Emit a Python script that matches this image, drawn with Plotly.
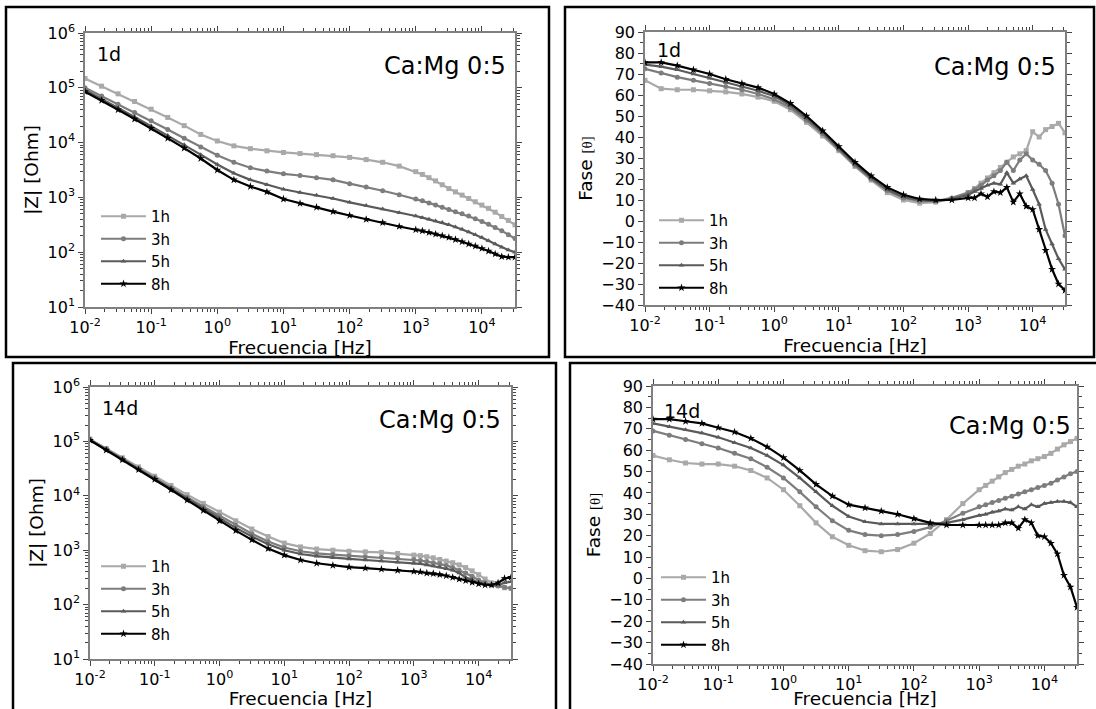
import plotly.graph_objects as go

W, H = 1096, 709

# Measurement frequencies [Hz]
freq = [0.01, 0.0178, 0.0316, 0.0562, 0.1, 0.178, 0.316, 0.562, 1, 1.78, 3.16, 5.62,
        10, 17.8, 31.6, 56.2, 100, 178, 316, 562, 1000,
        1259, 1585, 1995, 2512, 3162, 3981, 5012, 6310, 7943, 10000,
        12589, 15849, 19953, 25119, 31623]

hours = ["1h", "3h", "5h", "8h"]

# |Z| [Ohm], 1 day
z1d_1h = [1.48e5, 1.07e5, 7.76e4, 5.62e4, 4.07e4, 2.88e4, 2.04e4, 1.41e4, 1.07e4, 8.71e3, 7.76e3, 7.08e3,
          6.61e3, 6.31e3, 6.03e3, 5.75e3, 5.37e3, 4.90e3, 4.37e3, 3.72e3, 2.95e3,
          2.63e3, 2.29e3, 2.00e3, 1.70e3, 1.45e3, 1.26e3, 1.10e3, 955, 832, 724, 631, 537, 447, 380, 316]
z1d_3h = [1.00e5, 7.08e4, 5.01e4, 3.55e4, 2.51e4, 1.74e4, 1.20e4, 8.32e3, 5.89e3, 4.37e3, 3.47e3, 3.02e3,
          2.69e3, 2.51e3, 2.29e3, 2.09e3, 1.78e3, 1.55e3, 1.32e3, 1.12e3, 933,
          871, 794, 724, 661, 603, 550, 501, 457, 407, 363, 324, 282, 245, 209, 178]
z1d_5h = [9.12e4, 6.31e4, 4.27e4, 2.95e4, 2.00e4, 1.35e4, 9.12e3, 6.03e3, 3.98e3, 2.75e3, 2.09e3, 1.70e3,
          1.41e3, 1.23e3, 1.10e3, 955, 813, 708, 617, 525, 457,
          427, 398, 372, 347, 316, 288, 263, 234, 209, 186, 162, 141, 123, 110, 100]
z1d_8h = [8.51e4, 5.89e4, 3.98e4, 2.69e4, 1.82e4, 1.20e4, 7.94e3, 5.13e3, 3.16e3, 2.09e3, 1.58e3, 1.26e3,
          933, 776, 661, 550, 468, 398, 347, 295, 257,
          245, 229, 214, 200, 186, 170, 155, 141, 129, 117, 105, 93, 83, 81, 81]

# Phase [deg], 1 day
ph1d_1h = [67, 63, 62.5, 62.5, 62, 61.5, 60.5, 59, 57, 53, 47, 40.5, 33.5, 26, 19.5, 13.5, 10, 8.5, 9, 10.5, 13.5,
           15.5, 18, 20.5, 23, 25.5, 28, 30.5, 32, 33.5, 42.5, 40, 43.5, 45, 46.5, 42]
ph1d_3h = [72.5, 70.5, 68.5, 67, 65.5, 64, 62.5, 60.5, 58, 54, 48, 41.5, 34, 26.5, 20, 14.5, 11, 9.5, 9.5, 11, 13.5,
           15, 17, 19.5, 21.5, 24, 28, 24, 29, 32, 29, 27, 24, 18, 8, -7]
ph1d_5h = [74.5, 73.5, 72, 70, 68, 66, 64, 62, 59.5, 55, 49, 42, 34.5, 27, 20.5, 15, 11.5, 10, 9.5, 10.5, 12.5,
           14, 15.5, 17, 18, 17.5, 23, 18, 20, 21.5, 15, 8, -4, -11, -18, -23]
ph1d_8h = [75.5, 75.5, 74, 72, 70, 67.5, 65.5, 63.5, 60.5, 56, 50, 43, 35.5, 28, 21.5, 16, 12.5, 10.5, 10, 10, 11,
           11, 13, 11.5, 14, 13.5, 16, 9, 13, 7, 5.5, -4, -14, -23, -30, -33]

# |Z| [Ohm], 14 days
z14d_1h = [1.10e5, 7.41e4, 5.01e4, 3.39e4, 2.29e4, 1.55e4, 1.05e4, 7.24e3, 5.01e3, 3.47e3, 2.45e3, 1.78e3,
           1.35e3, 1.15e3, 1.05e3, 1.00e3, 955, 933, 912, 871, 813,
           794, 759, 724, 676, 631, 589, 537, 479, 417, 355, 295, 251, 224, 204, 200]
z14d_3h = [1.07e5, 7.24e4, 4.79e4, 3.16e4, 2.14e4, 1.41e4, 9.33e3, 6.31e3, 4.27e3, 2.88e3, 2.00e3, 1.45e3,
           1.12e3, 955, 871, 832, 794, 759, 741, 708, 676,
           646, 617, 589, 562, 525, 479, 427, 380, 331, 282, 251, 229, 219, 209, 200]
z14d_5h = [1.05e5, 7.08e4, 4.68e4, 3.09e4, 2.04e4, 1.35e4, 8.71e3, 5.75e3, 3.80e3, 2.57e3, 1.78e3, 1.29e3,
           1.00e3, 851, 776, 724, 692, 661, 631, 603, 575,
           562, 537, 513, 490, 457, 427, 380, 316, 288, 251, 234, 224, 229, 251, 263]
z14d_8h = [1.05e5, 6.92e4, 4.57e4, 3.02e4, 2.00e4, 1.29e4, 8.32e3, 5.37e3, 3.47e3, 2.29e3, 1.55e3, 1.07e3,
           813, 661, 575, 525, 490, 468, 447, 427, 407,
           398, 380, 372, 355, 339, 316, 295, 275, 257, 240, 229, 229, 251, 302, 316]

# Phase [deg], 14 days
ph14d_1h = [57.5, 55.5, 54, 53.5, 53.5, 52.5, 50.5, 47, 41.5, 34, 26, 19.5, 15.5, 13, 12.5, 13.5, 16.5, 21, 27.5, 35, 41.5,
            43.5, 45.5, 47.5, 49.5, 51, 52.5, 53.5, 55, 56, 57, 58.5, 60.5, 62.5, 64, 65.5]
ph14d_3h = [69, 67, 65, 63, 61, 58.5, 56, 52, 47, 40.5, 33.5, 27, 22.5, 20.5, 20, 20.5, 22, 24, 27, 30.5, 33.5,
            34.5, 35.5, 36.5, 37.5, 38.5, 39.5, 40.5, 41.5, 42.5, 43.5, 44.5, 46, 47.5, 49, 50]
ph14d_5h = [72.5, 71, 69.5, 68, 66, 63.5, 61, 57.5, 53, 47, 40.5, 34, 29, 26.5, 25.5, 25.5, 25.5, 25.5, 26, 27.5, 29.5,
            30, 31, 31.5, 32.5, 32, 33.5, 32.5, 34.5, 33.5, 35, 35.5, 36, 36, 35.5, 33.5]
ph14d_8h = [74.5, 74.5, 73.5, 72.5, 70.5, 68.5, 65.5, 61.5, 56.5, 50.5, 44, 38.5, 34.5, 33, 31.5, 30, 28, 26, 25, 25, 25,
            25, 25, 25, 26, 26, 23.5, 27.5, 26, 20, 19.5, 16.5, 11.5, 1.5, -4, -13.5]

x_ticks = [0.01, 0.1, 1, 10, 100, 1000, 10000]
x_ticktext = ["10<sup>-2</sup>", "10<sup>-1</sup>", "10<sup>0</sup>", "10<sup>1</sup>",
              "10<sup>2</sup>", "10<sup>3</sup>", "10<sup>4</sup>"]
z_ticks = [10, 100, 1000, 10000, 100000, 1000000]
z_ticktext = ["10<sup>1</sup>", "10<sup>2</sup>", "10<sup>3</sup>", "10<sup>4</sup>",
              "10<sup>5</sup>", "10<sup>6</sup>"]

colors = ["#a9a9a9", "#7d7d7d", "#5a5a5a", "#000000"]
symbols = ["square", "circle", "triangle-up", "star"]

FONT = "DejaVu Sans, Verdana, sans-serif"
AXIS_COLOR = "#808080"
TICK_SIZE = 16
TITLE_SIZE = 18.5


def fx(px):
    return px / W


def fy(py):
    return 1 - py / H


minor_log = [m * 10 ** e for e in range(-2, 6) for m in range(2, 10)]

panels = [
    dict(n="", kind="z", day="1d", data=[z1d_1h, z1d_3h, z1d_5h, z1d_8h],
         dx=(85, 515), dy=(33, 307), leg=(96, 200), day_pos=(95, 54), tag_pos=(508, 66), frame=(6, 7, 549, 357)),
    dict(n="2", kind="ph", day="1d", data=[ph1d_1h, ph1d_3h, ph1d_5h, ph1d_8h],
         dx=(645, 1065), dy=(32, 305), leg=(654, 204), day_pos=(655, 50), tag_pos=(1058, 67), frame=(565, 7, 1094, 357)),
    dict(n="3", kind="z", day="14d", data=[z14d_1h, z14d_3h, z14d_5h, z14d_8h],
         dx=(90, 511), dy=(387, 659), leg=(96, 550), day_pos=(100, 408), tag_pos=(503, 420), frame=(13, 363, 556, 712)),
    dict(n="4", kind="ph", day="14d", data=[ph14d_1h, ph14d_3h, ph14d_5h, ph14d_8h],
         dx=(653, 1077), dy=(386, 664), leg=(656, 561), day_pos=(662, 411), tag_pos=(1073, 426), frame=(570, 363, 1099, 712)),
]

fig = go.Figure()
layout = dict(
    width=W, height=H,
    margin=dict(l=0, r=0, t=0, b=0),
    paper_bgcolor="white", plot_bgcolor="white",
    font=dict(family=FONT, color="black", size=15),
    annotations=[], shapes=[],
)

for p in panels:
    n = p["n"]
    legname = "legend" + n
    for i, series in enumerate(p["data"]):
        fig.add_trace(go.Scatter(
            x=freq, y=series, name=hours[i],
            mode="lines+markers",
            line=dict(color=colors[i], width=2.2),
            marker=dict(symbol=symbols[i], color=colors[i], size=5 if i < 3 else 6, line=dict(width=0)),
            xaxis="x" + n, yaxis="y" + n, legend=legname,
        ))

    xa = dict(
        domain=[fx(p["dx"][0]), fx(p["dx"][1])],
        anchor="y" + n, type="log", range=[-2, 4.5],
        tickmode="array", tickvals=x_ticks, ticktext=x_ticktext,
        ticks="outside", ticklen=5, tickwidth=1, tickcolor="#444",
        minor=dict(tickmode="array", tickvals=minor_log, ticks="outside", ticklen=3, tickcolor="#444"),
        showline=True, linecolor=AXIS_COLOR, linewidth=1.5, mirror="ticks",
        showgrid=False, zeroline=False, automargin=False,
        tickfont=dict(size=TICK_SIZE, family=FONT),
        title=dict(text="Frecuencia [Hz]", font=dict(size=TITLE_SIZE, family=FONT), standoff=3),
    )
    if p["kind"] == "z":
        ya = dict(
            type="log", range=[1, 6],
            tickmode="array", tickvals=z_ticks, ticktext=z_ticktext,
            minor=dict(tickmode="array", tickvals=minor_log, ticks="outside", ticklen=3, tickcolor="#444"),
            title=dict(text="|Z| [Ohm]", font=dict(size=TITLE_SIZE, family=FONT), standoff=4),
        )
    else:
        ya = dict(
            range=[-40, 90], tickmode="linear", tick0=-40, dtick=10,
            minor=dict(dtick=5, ticks="outside", ticklen=3, tickcolor="#444"),
            title=dict(text="Fase <span style=\"font-family:'Liberation Serif',serif;font-size:15px\">[θ]</span>",
                       font=dict(size=TITLE_SIZE, family=FONT), standoff=4),
        )
    ya.update(
        domain=[fy(p["dy"][1]), fy(p["dy"][0])],
        anchor="x" + n,
        ticks="outside", ticklen=5, tickwidth=1, tickcolor="#444",
        showline=True, linecolor=AXIS_COLOR, linewidth=1.5, mirror="ticks",
        showgrid=False, zeroline=False, automargin=False,
        tickfont=dict(size=TICK_SIZE, family=FONT),
    )
    layout["xaxis" + n] = xa
    layout["yaxis" + n] = ya

    layout[legname] = dict(
        x=fx(p["leg"][0]), y=fy(p["leg"][1]), xanchor="left", yanchor="top",
        bgcolor="rgba(0,0,0,0)", borderwidth=0,
        font=dict(size=15, family=FONT, color="black"),
        itemwidth=45, tracegroupgap=0,
    )

    layout["annotations"].append(dict(
        text=p["day"], x=fx(p["day_pos"][0]), y=fy(p["day_pos"][1]),
        xref="paper", yref="paper", xanchor="left", yanchor="middle",
        showarrow=False, font=dict(size=19, family=FONT, color="black"),
    ))
    layout["annotations"].append(dict(
        text="Ca:Mg 0:5", x=fx(p["tag_pos"][0]), y=fy(p["tag_pos"][1]),
        xref="paper", yref="paper", xanchor="right", yanchor="middle",
        showarrow=False, font=dict(size=24, family=FONT, color="black"),
    ))

    x0, y0, x1, y1 = p["frame"]
    layout["shapes"].append(dict(
        type="rect", xref="paper", yref="paper",
        x0=fx(x0), x1=fx(x1), y0=fy(y1), y1=fy(y0),
        line=dict(color="black", width=2.5), fillcolor="rgba(0,0,0,0)", layer="above",
    ))

fig.update_layout(**layout)
fig.write_html("out.html")
